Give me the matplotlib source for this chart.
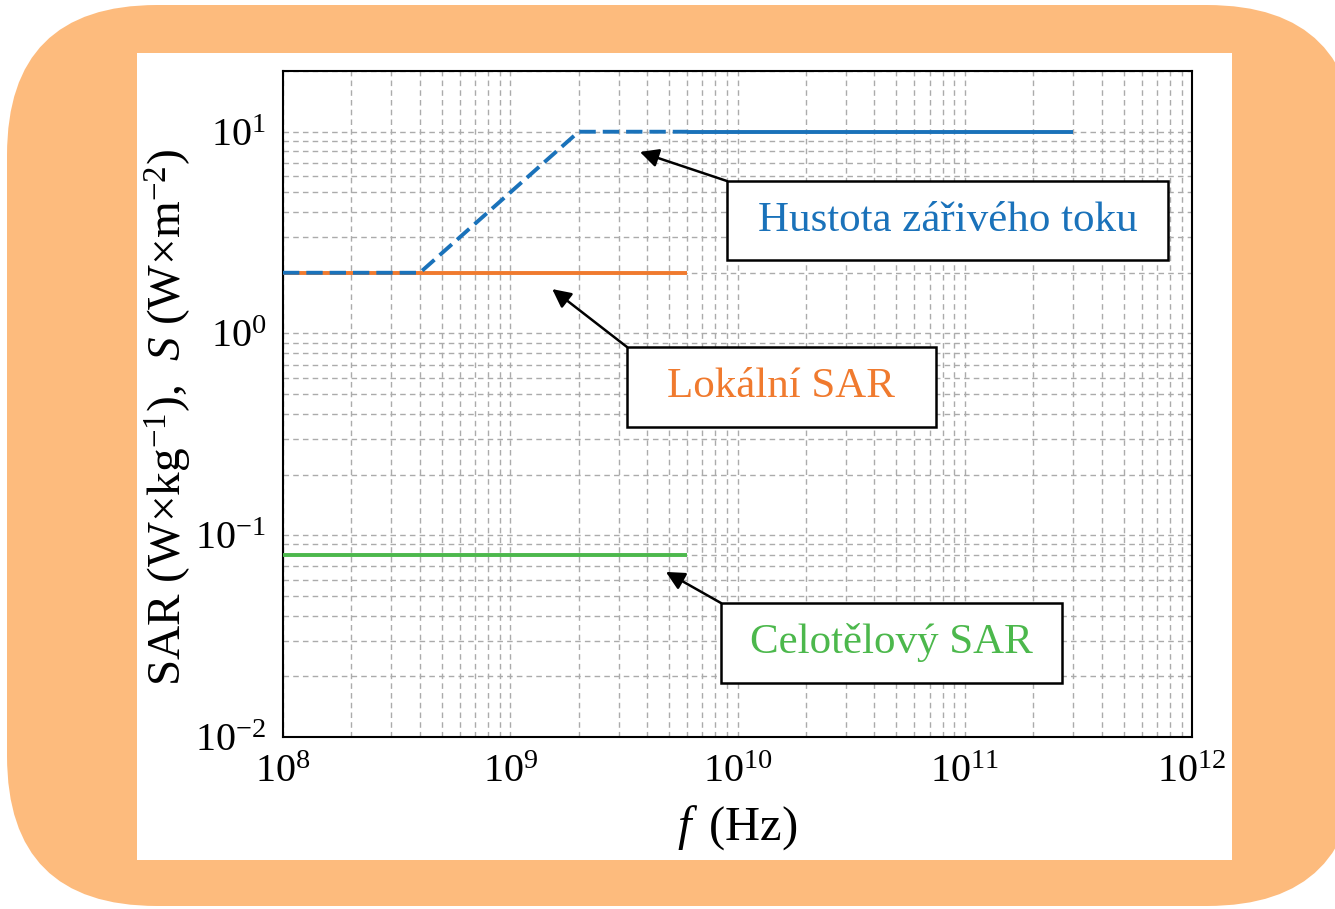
import numpy as np
import matplotlib
matplotlib.use("Agg")
from matplotlib import pyplot as plt
from matplotlib.patches import FancyBboxPatch, Rectangle

plt.rcParams['font.family'] = ['Liberation Serif', 'DejaVu Serif']
plt.rcParams['mathtext.fontset'] = 'custom'
plt.rcParams['mathtext.rm'] = 'Liberation Serif'
plt.rcParams['mathtext.it'] = 'Liberation Serif:italic'

# data
f_flux_dash = [1e8, 4e8, 2e9, 6e9]      # Hz
s_flux_dash = [2, 2, 10, 10]            # W/m^2
f_flux_solid = [6e9, 3e11]
s_flux_solid = [10, 10]
f_local = [1e8, 6e9]
sar_local = [2, 2]                      # W/kg
f_whole = [1e8, 6e9]
sar_whole = [0.08, 0.08]

xticks = [1e8, 1e9, 1e10, 1e11, 1e12]
xtick_labels = [r'$10^{8}$', r'$10^{9}$', r'$10^{10}$', r'$10^{11}$', r'$10^{12}$']
yticks = [1e-2, 1e-1, 1e0, 1e1]
ytick_labels = [r'$10^{-2}$', r'$10^{-1}$', r'$10^{0}$', r'$10^{1}$']

labels = ['Hustota zářivého toku', 'Lokální SAR', 'Celotělový SAR']
arrow_tips = [(3.72e9, 7.94), (1.53e9, 1.66), (4.84e9, 0.0658)]

c_blue = '#1a72ba'
c_orange = '#f07a2e'
c_green = '#4cb84c'

W, H = 1335, 909
fig = plt.figure(figsize=(W/100, H/100), dpi=100)

# background: orange rounded frame + white panel
bg = fig.add_axes([0, 0, 1, 1])
bg.set_xlim(0, W)
bg.set_ylim(H, 0)
bg.axis('off')
bg.add_patch(FancyBboxPatch((7, 5), 1350, 901, boxstyle='round,pad=0,rounding_size=150',
                            fc='#fdbb7d', ec='none'))
bg.add_patch(Rectangle((137, 53), 1095, 807, fc='white', ec='none'))

ax = fig.add_axes([283/W, (H-737)/H, 909/W, 666/H])
ax.set_xscale('log')
ax.set_yscale('log')
ax.set_xlim(1e8, 1e12)
ax.set_ylim(1e-2, 20)

ax.plot(f_local, sar_local, color=c_orange, lw=2.8, solid_capstyle='butt', zorder=3)
ax.plot(f_whole, sar_whole, color=c_green, lw=2.8, solid_capstyle='butt', zorder=3)
ax.plot(f_flux_dash, s_flux_dash, color=c_blue, lw=2.8, ls=(0, (4.2, 1.8)), zorder=4)
ax.plot(f_flux_solid, s_flux_solid, color=c_blue, lw=2.8, solid_capstyle='butt', zorder=4)

ax.set_xticks(xticks)
ax.set_xticklabels(xtick_labels)
ax.set_yticks(yticks)
ax.set_yticklabels(ytick_labels)
ax.tick_params(which='both', length=0, labelsize=29)
ax.tick_params(axis='x', pad=12)
ax.tick_params(axis='y', pad=12)

ax.grid(True, which='both', color='#ababab', ls=(0, (4, 3)), lw=1.0)
ax.set_axisbelow(True)
for sp in ax.spines.values():
    sp.set_linewidth(1.5)

ax.set_xlabel(r'$f\,$ (Hz)', fontsize=35)
ax.xaxis.set_label_coords(0.5, -0.1)
ax.set_ylabel(r'SAR (W×kg$^{-1}$),  $S$ (W×m$^{-2}$)', fontsize=34)
ax.yaxis.set_label_coords(-0.098, 0.48)

# annotation boxes (axes fraction)
boxes = [(0.4884, 0.7162, 0.9736, 0.8348),
         (0.3784, 0.4655, 0.7184, 0.5856),
         (0.4818, 0.0811, 0.8570, 0.2012)]
colors = [c_blue, c_orange, c_green]
for lab, (x0, y0, x1, y1), col, tip in zip(labels, boxes, colors, arrow_tips):
    ax.add_patch(Rectangle((x0, y0), x1-x0, y1-y0, transform=ax.transAxes,
                           fc='white', ec='black', lw=1.8, zorder=6))
    ax.text((x0+x1)/2, (y0+y1)/2, lab, transform=ax.transAxes, ha='center', va='center',
            color=col, fontsize=31, zorder=7)
    ax.annotate('', xy=tip, xycoords='data', xytext=(x0, y1), textcoords='axes fraction',
                arrowprops=dict(arrowstyle='-|>', color='black', lw=1.8, mutation_scale=28,
                                shrinkA=0, shrinkB=0), zorder=7)

fig.savefig('out.png', dpi=100)
